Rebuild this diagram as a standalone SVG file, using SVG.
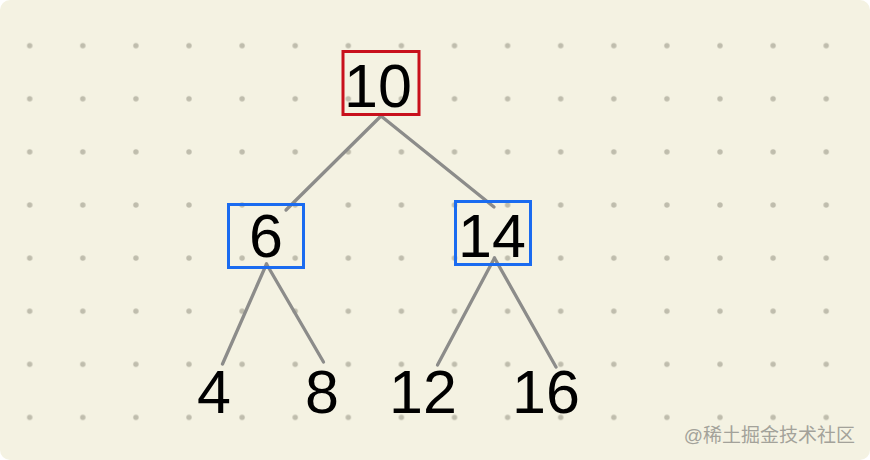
<svg xmlns="http://www.w3.org/2000/svg" width="870" height="460" viewBox="0 0 870 460">
<defs>
<pattern id="dots" x="29.7" y="45.7" width="53.1" height="53.1" patternUnits="userSpaceOnUse">
<circle cx="0" cy="0" r="2.7" fill="#bfbdad"/>
<circle cx="53.1" cy="0" r="2.7" fill="#bfbdad"/>
<circle cx="0" cy="53.1" r="2.7" fill="#bfbdad"/>
<circle cx="53.1" cy="53.1" r="2.7" fill="#bfbdad"/>
</pattern>
<style>
.box{fill:none;stroke-width:3}
.red{stroke:#c8101c}
.blue{stroke:#1a6bf0}
.num{font-family:"Liberation Sans",Arial,sans-serif;font-size:61px;fill:#000;text-anchor:middle}
.edge{stroke:#8c8c8a;stroke-width:3.3;stroke-linecap:round;fill:none}
.wm{font-family:"Liberation Sans","Noto Sans CJK SC",sans-serif;font-size:19px;fill:#a3a29a;text-anchor:end}
</style>
</defs>
<rect x="0" y="0" width="870" height="460" fill="#ffffff"/>
<rect x="0" y="0" width="870" height="460" rx="10" fill="#f4f2e2"/>
<rect x="20" y="36" width="820" height="390" fill="url(#dots)"/>
<g id="connectors">
<line class="edge" x1="381" y1="116" x2="286" y2="210"/>
<line class="edge" x1="381" y1="116" x2="494" y2="207"/>
<line class="edge" x1="266.5" y1="264" x2="222.5" y2="364"/>
<line class="edge" x1="266.5" y1="264" x2="323.5" y2="362"/>
<line class="edge" x1="494.5" y1="258" x2="437.5" y2="365"/>
<line class="edge" x1="494.5" y1="258" x2="556" y2="367"/>
</g>
<g id="n10">
<rect class="box red" x="343" y="51.5" width="76" height="63"/>
<text class="num" x="378" y="107">10</text>
</g>
<g id="n6">
<rect class="box blue" x="228.5" y="204.5" width="75" height="63"/>
<text class="num" x="266" y="257">6</text>
</g>
<g id="n14">
<rect class="box blue" x="455.5" y="201.5" width="75" height="63"/>
<text class="num" x="492" y="257">14</text>
</g>
<g id="n4"><text class="num" x="214" y="413">4</text></g>
<g id="n8"><text class="num" x="322" y="413">8</text></g>
<g id="n12"><text class="num" x="423" y="413">12</text></g>
<g id="n16"><text class="num" x="546" y="413">16</text></g>
<text class="wm" x="855" y="442">@稀土掘金技术社区</text>
</svg>
